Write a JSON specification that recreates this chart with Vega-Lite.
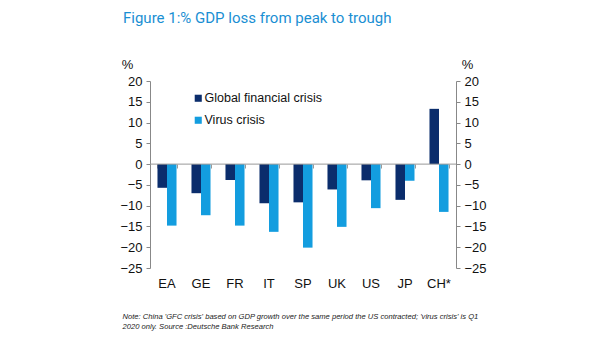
{
  "$schema": "https://vega.github.io/schema/vega-lite/v6.json",
  "autosize": {"type": "none"},
  "width": 306,
  "height": 187,
  "padding": {"left": 150, "top": 81, "right": 149, "bottom": 73},
  "background": "white",
  "config": {
    "view": {"stroke": null},
    "font": "Liberation Sans"
  },
  "title": {
    "text": "Figure 1:% GDP loss from peak to trough",
    "anchor": "start",
    "frame": "group",
    "color": "#1a8fd3",
    "fontSize": 15,
    "fontWeight": "normal",
    "font": "Roboto",
    "dx": -27,
    "offset": 32
  },
  "data": {
    "values": [
      {"country": "EA", "series": "Global financial crisis", "value": -5.7},
      {"country": "EA", "series": "Virus crisis", "value": -14.8},
      {"country": "GE", "series": "Global financial crisis", "value": -7.0},
      {"country": "GE", "series": "Virus crisis", "value": -12.3},
      {"country": "FR", "series": "Global financial crisis", "value": -3.8},
      {"country": "FR", "series": "Virus crisis", "value": -14.8},
      {"country": "IT", "series": "Global financial crisis", "value": -9.4},
      {"country": "IT", "series": "Virus crisis", "value": -16.3},
      {"country": "SP", "series": "Global financial crisis", "value": -9.2},
      {"country": "SP", "series": "Virus crisis", "value": -20.1},
      {"country": "UK", "series": "Global financial crisis", "value": -6.1},
      {"country": "UK", "series": "Virus crisis", "value": -15.1},
      {"country": "US", "series": "Global financial crisis", "value": -3.9},
      {"country": "US", "series": "Virus crisis", "value": -10.6},
      {"country": "JP", "series": "Global financial crisis", "value": -8.6},
      {"country": "JP", "series": "Virus crisis", "value": -4.0},
      {"country": "CH*", "series": "Global financial crisis", "value": 13.3},
      {"country": "CH*", "series": "Virus crisis", "value": -11.5}
    ]
  },
  "layer": [
    {
      "mark": {"type": "bar"},
      "encoding": {
        "x": {
          "field": "country",
          "type": "nominal",
          "sort": ["EA", "GE", "FR", "IT", "SP", "UK", "US", "JP", "CH*"],
          "scale": {"paddingInner": 0.44, "paddingOuter": 0.22},
          "axis": {
            "orient": "bottom",
            "title": ["Note: China 'GFC crisis' based on GDP growth over the same period the US contracted; 'virus crisis' is Q1", "2020 only. Source :Deutsche Bank Research"],
            "titleFont": "Liberation Sans",
            "titleFontStyle": "italic",
            "titleFontWeight": "normal",
            "titleFontSize": 7.6,
            "titleColor": "#222",
            "titleAnchor": "start",
            "titleAlign": "left",
            "titleX": -28,
            "titleY": 44,
            "titleLineHeight": 10,
            "labelAngle": 0,
            "labelFontSize": 13,
            "labelColor": "#111",
            "labelPadding": 9,
            "domain": false,
            "ticks": false,
            "grid": false
          }
        },
        "xOffset": {"field": "series", "type": "nominal", "sort": ["Global financial crisis", "Virus crisis"]},
        "y": {
          "field": "value",
          "type": "quantitative",
          "scale": {"domain": [-25, 20], "nice": false},
          "axis": {
            "orient": "left",
            "values": [-25, -20, -15, -10, -5, 0, 5, 10, 15, 20],
            "title": "%",
            "titleAngle": 0,
            "titleFontSize": 13,
            "titleFontWeight": "normal",
            "titleColor": "#111",
            "titleAnchor": "end",
            "titleAlign": "center",
            "titleBaseline": "middle",
            "titleX": -23,
            "titleY": -17,
            "labelFontSize": 13,
            "labelColor": "#111",
            "labelPadding": 4,
            "domainColor": "#888",
            "tickColor": "#888",
            "tickSize": 4,
            "grid": false
          }
        },
        "color": {
          "field": "series",
          "type": "nominal",
          "sort": ["Global financial crisis", "Virus crisis"],
          "scale": {"domain": ["Global financial crisis", "Virus crisis"], "range": ["#0b2d6c", "#139ddf"]},
          "legend": {
            "title": null,
            "orient": "none",
            "legendX": 42,
            "legendY": 11,
            "symbolType": "square",
            "symbolSize": 50,
            "symbolOpacity": 1,
            "labelFontSize": 12.5,
            "labelColor": "#111",
            "labelOffset": 0,
            "rowPadding": 9
          }
        }
      }
    },
    {
      "mark": {"type": "rule", "color": "#999", "strokeWidth": 1},
      "data": {"values": [{"zero": 0}]},
      "encoding": {
        "y": {
          "field": "zero",
          "type": "quantitative",
          "axis": {
            "orient": "right",
            "values": [-25, -20, -15, -10, -5, 0, 5, 10, 15, 20],
            "title": "%",
            "titleAngle": 0,
            "titleFontSize": 13,
            "titleFontWeight": "normal",
            "titleColor": "#111",
            "titleAnchor": "end",
            "titleAlign": "center",
            "titleBaseline": "middle",
            "titleX": 11,
            "titleY": -17,
            "labelFontSize": 13,
            "labelColor": "#111",
            "labelPadding": 4,
            "domainColor": "#888",
            "tickColor": "#888",
            "tickSize": 4,
            "grid": false
          }
        }
      }
    },
    {
      "mark": {"type": "tick", "opacity": 0},
      "data": {"values": [{"country": "EA", "zero": 0}]},
      "encoding": {
        "x": {
          "field": "country",
          "type": "nominal",
          "sort": ["EA", "GE", "FR", "IT", "SP", "UK", "US", "JP", "CH*"],
          "axis": {
            "orient": "bottom",
            "offset": -104,
            "title": null,
            "labels": false,
            "domain": false,
            "tickBand": "extent",
            "tickColor": "#999",
            "tickSize": 4,
            "grid": false
          }
        },
        "y": {"field": "zero", "type": "quantitative", "axis": null}
      }
    }
  ],
  "resolve": {"axis": {"x": "independent", "y": "independent"}}
}
